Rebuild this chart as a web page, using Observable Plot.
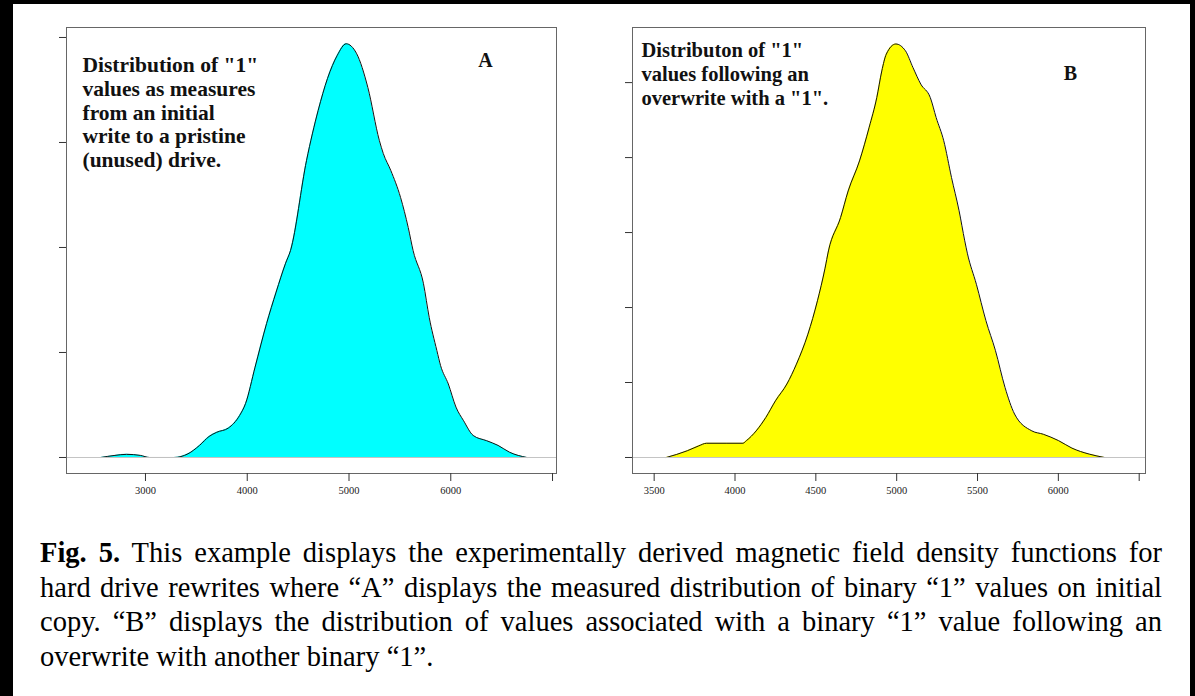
<!DOCTYPE html>
<html>
<head>
<meta charset="utf-8">
<script src="https://cdn.jsdelivr.net/npm/d3@7"></script>
<script src="https://cdn.jsdelivr.net/npm/@observablehq/plot@0.6"></script>
<style>
  html, body { margin: 0; padding: 0; background: #000; }
  body { width: 1195px; height: 696px; position: relative; overflow: hidden; }
  #sheet { position: absolute; left: 13px; top: 4px; width: 1177px; height: 692px; background: #fff; }
  #panelA { position: absolute; left: 0; top: 0; }
  #panelB { position: absolute; left: 590px; top: 0; }
  #caption { position: absolute; left: 40px; top: 536px; width: 1122px;
    font-family: "Liberation Serif", "Times New Roman", serif; font-size: 28.5px; line-height: 34.5px; color: #000; }
  #caption .line { white-space: nowrap; height: 34.5px; }
  #caption .inner { display: inline-block; white-space: nowrap; }
  #caption .fig { font-weight: bold; }
</style>
</head>
<body>
<div id="sheet"></div>
<div id="panelA"></div>
<div id="panelB"></div>
<div id="caption"></div>
<script>
// Panel A: initial write to pristine drive (density)
const valuesA = [2560, 2700, 2814, 2950, 3040, 3280, 3418, 3531, 3625, 3700, 3814, 3925, 3984, 4077, 4190, 4284, 4377, 4425, 4583, 4697, 4789, 4885, 4972, 5073, 5185, 5298, 5337, 5410, 5507, 5582, 5630, 5732, 5788, 5863, 5900, 5976, 6051, 6126, 6220, 6352, 6465, 6578, 6747];
const densityA = [0, 0.04e-4, 0.06e-4, 0.04e-4, 0, 0, 0.07e-4, 0.23e-4, 0.40e-4, 0.48e-4, 0.56e-4, 0.80e-4, 1.03e-4, 1.72e-4, 2.55e-4, 3.15e-4, 3.70e-4, 3.94e-4, 5.66e-4, 6.61e-4, 7.22e-4, 7.66e-4, 7.88e-4, 7.70e-4, 7.05e-4, 6.04e-4, 5.79e-4, 5.47e-4, 4.95e-4, 4.38e-4, 3.94e-4, 3.31e-4, 2.67e-4, 2.04e-4, 1.75e-4, 1.40e-4, 0.96e-4, 0.70e-4, 0.42e-4, 0.32e-4, 0.23e-4, 0.10e-4, 0];
// Panel B: after overwrite with a "1"
const valuesB = [3575, 3705, 3776, 3824, 3950, 4049, 4071, 4131, 4191, 4250, 4321, 4380, 4451, 4510, 4557, 4578, 4653, 4700, 4770, 4830, 4877, 4908, 4936, 4995, 5054, 5101, 5149, 5208, 5244, 5291, 5339, 5386, 5421, 5437, 5493, 5552, 5611, 5670, 5729, 5836, 5907, 6001, 6084, 6191, 6286];
const densityB = [0, 0.18e-4, 0.31e-4, 0.38e-4, 0.38e-4, 0.38e-4, 0.45e-4, 0.71e-4, 1.07e-4, 1.51e-4, 1.96e-4, 2.49e-4, 3.29e-4, 4.18e-4, 5.05e-4, 5.51e-4, 6.40e-4, 7.11e-4, 7.91e-4, 8.81e-4, 9.60e-4, 10.31e-4, 10.76e-4, 11.03e-4, 10.85e-4, 10.40e-4, 9.96e-4, 9.60e-4, 9.07e-4, 8.45e-4, 7.47e-4, 6.58e-4, 5.78e-4, 5.45e-4, 4.62e-4, 3.65e-4, 2.85e-4, 1.87e-4, 1.16e-4, 0.71e-4, 0.62e-4, 0.45e-4, 0.25e-4, 0.09e-4, 0];

const xTicksA = [3000, 4000, 5000, 6000, 7000];
const xLabelsA = ["3000", "4000", "5000", "6000", ""];
const yTicksA = [0, 2e-4, 4e-4, 6e-4, 8e-4];
const xTicksB = [3500, 4000, 4500, 5000, 5500, 6000, 6500];
const xLabelsB = ["3500", "4000", "4500", "5000", "5500", "6000", ""];
const yTicksB = [0, 2e-4, 4e-4, 6e-4, 8e-4, 10e-4];

const noteA = "Distribution of \"1\"\nvalues as measures\nfrom an initial\nwrite to a pristine\n(unused) drive.";
const noteB = "Distributon of \"1\"\nvalues following an\noverwrite with a \"1\".";

const captionLead = "Fig. 5.";
const captionLines = [
  " This example displays the experimentally derived magnetic field density functions for",
  "hard drive rewrites where “A” displays the measured distribution of binary “1” values on initial",
  "copy. “B” displays the distribution of values associated with a binary “1” value following an",
  "overwrite with another binary “1”."
];

// caption: fixed line breaks, each full line justified to the column width
const cap = document.getElementById("caption");
const colWidth = 1122;
captionLines.forEach((t, i) => {
  const line = document.createElement("div");
  line.className = "line";
  const inner = document.createElement("span");
  inner.className = "inner";
  if (i === 0) {
    const b = document.createElement("span");
    b.className = "fig";
    b.textContent = captionLead;
    inner.append(b);
  }
  const s = document.createElement("span");
  s.textContent = t;
  inner.append(s);
  line.append(inner);
  cap.append(line);
  if (i < captionLines.length - 1) {
    const w = inner.getBoundingClientRect().width;
    const spaces = ((i === 0 ? captionLead : "") + t).split(" ").length - 1;
    inner.style.wordSpacing = ((colWidth - w) / spaces) + "px";
  }
});

const rowsA = valuesA.map((v, i) => ({x: v, d: densityA[i]}));
const rowsB = valuesB.map((v, i) => ({x: v, d: densityB[i]}));

function panel({rows, fill, xDomain, yDomain, xTicks, xLabels, yTicks, note, noteSize, noteDx, noteDy, letter, letterDx, letterDy, width, marginLeft, marginRight}) {
  return Plot.plot({
    width, height: 510,
    marginLeft, marginRight, marginTop: 27, marginBottom: 37,
    style: {background: "transparent", fontFamily: "'Liberation Serif', 'Times New Roman', serif", fontSize: "10.5px", color: "#222"},
    x: {domain: xDomain},
    y: {domain: yDomain},
    marks: [
      Plot.areaY(rows, {x: "x", y: "d", fill, curve: "monotone-x"}),
      Plot.line(rows, {x: "x", y: "d", stroke: "#111", strokeWidth: 1, curve: "monotone-x"}),
      Plot.ruleY([0], {stroke: "#c4c4c4", strokeWidth: 1}),
      Plot.frame({stroke: "#666", strokeWidth: 1}),
      Plot.axisX({ticks: xTicks, tickSize: 8, tickPadding: 5, stroke: "#333",
        tickFormat: d => xLabels[xTicks.indexOf(d)], label: null}),
      Plot.axisY({ticks: yTicks, tickSize: 7, stroke: "#333", tickFormat: () => "", label: null}),
      Plot.text([note], {frameAnchor: "top-left", dx: noteDx, dy: noteDy, textAnchor: "start", lineAnchor: "top",
        fontSize: noteSize, fontWeight: "bold", lineHeight: 23.7 / noteSize, fill: "#111"}),
      Plot.text([letter], {frameAnchor: "top-left", dx: letterDx, dy: letterDy, textAnchor: "middle", lineAnchor: "middle",
        fontSize: 20, fontWeight: "bold", fill: "#111"})
    ]
  });
}

document.getElementById("panelA").append(panel({
  rows: rowsA, fill: "#00ffff",
  xDomain: [2224, 7039], yDomain: [-0.305e-4, 8.19e-4],
  xTicks: xTicksA, xLabels: xLabelsA, yTicks: yTicksA,
  note: noteA, noteSize: 21.5, noteDx: 16, noteDy: 28, letter: "A", letterDx: 419, letterDy: 33,
  width: 600, marginLeft: 66, marginRight: 44
}));

document.getElementById("panelB").append(panel({
  rows: rowsB, fill: "#ffff00",
  xDomain: [3366, 6539], yDomain: [-0.427e-4, 11.47e-4],
  xTicks: xTicksB, xLabels: xLabelsB, yTicks: yTicksB,
  note: noteB, noteSize: 20.5, noteDx: 9, noteDy: 13, letter: "B", letterDx: 438, letterDy: 46,
  width: 605, marginLeft: 42, marginRight: 50
}));
</script>
</body>
</html>
